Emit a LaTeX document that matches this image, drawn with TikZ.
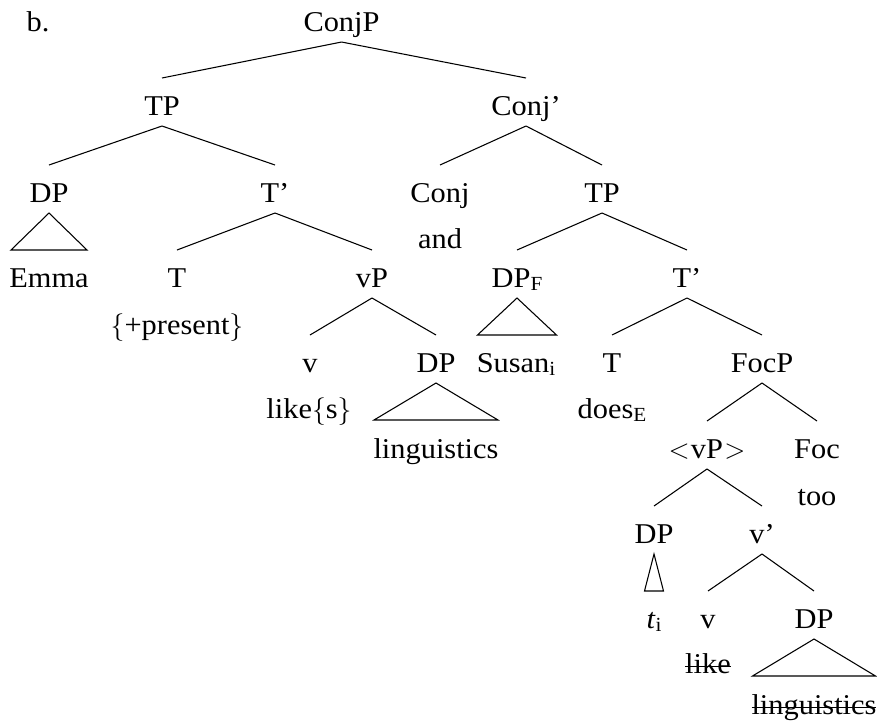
\documentclass[tikz,border=0pt]{standalone}
\usepackage{fontspec}
\setmainfont[FakeStretch=1.06]{Liberation Serif}
\usetikzlibrary{calc}
\newcommand{\sbs}[1]{\raisebox{-0.28ex}{\fontsize{15}{15}\selectfont #1}}
\newcommand{\strk}[1]{\tikz[baseline=(s.base)]{\node[inner sep=0pt,outer sep=0pt] (s) {#1};\draw[line width=0.9pt] ([yshift=4.6pt]s.base west) -- ([yshift=4.6pt]s.base east);}}
\begin{document}
\begin{tikzpicture}[x=0.75pt,y=-0.75pt,
  lbl/.style={anchor=base,inner sep=0pt,outer sep=0pt,font=\fontsize{21.5}{24}\selectfont},
  edge/.style={line width=0.8pt,black}]
\useasboundingbox (0,0) rectangle (877,722);
% nodes
\node[lbl] (b) at (38,31) {b.};
\node[lbl] (conjp) at (341.5,31) {ConjP};
\node[lbl] (tp1) at (162,115) {TP};
\node[lbl] (conjbar) at (526,115) {Conj'};
\node[lbl] (dp1) at (49,202) {DP};
\node[lbl] (tbar1) at (275,202) {T'};
\node[lbl] (conj) at (440,202) {Conj};
\node[lbl] (tp2) at (602,202) {TP};
\node[lbl] (and) at (440,248) {and};
\node[lbl] (emma) at (49,287) {Emma};
\node[lbl] (t1) at (177,287) {T};
\node[lbl] (vp1) at (372,287) {vP};
\node[lbl] (dpf) at (517,287) {DP\sbs{F}};
\node[lbl] (tbar2) at (687,287) {T'};
\node[lbl] (pres) at (177,334) {$\{$+present$\}$};
\node[lbl] (v1) at (310,372) {v};
\node[lbl] (dp2) at (436,372) {DP};
\node[lbl] (susan) at (516,372) {Susan\sbs{i}};
\node[lbl] (t2) at (612,372) {T};
\node[lbl] (focp) at (762,372) {FocP};
\node[lbl] (likes) at (309,418) {like$\{$s$\}$};
\node[lbl] (does) at (612,418) {does\sbs{E}};
\node[lbl] (ling1) at (436,458) {linguistics};
\node[lbl] (vp2) at (707,458) {$<$\kern1pt vP\kern1pt$>$};
\node[lbl] (foc) at (817,458) {Foc};
\node[lbl] (too) at (817,505) {too};
\node[lbl] (dp3) at (654,543) {DP};
\node[lbl] (vbar) at (762,543) {v'};
\node[lbl] (ti) at (654,628) {\textit{t}\sbs{i}};
\node[lbl] (v2) at (708,628) {v};
\node[lbl] (dp4) at (814,628) {DP};
\node[lbl] (like) at (708,673) {\strk{like}};
\node[lbl] (ling2) at (814,714) {\strk{linguistics}};
% branches
\newcommand{\br}[2]{\draw[edge] ($(#1.base)+(0,11)$) -- ($(#2.base)+(0,-37)$);}
\newcommand{\tri}[2]{\draw[edge] ($(#1.base)+(0,11)$) -- ($(#1.base)+(-#2,48)$) -- ($(#1.base)+(#2,48)$) -- cycle;}
\br{conjp}{tp1}\br{conjp}{conjbar}
\br{tp1}{dp1}\br{tp1}{tbar1}
\br{conjbar}{conj}\br{conjbar}{tp2}
\br{tbar1}{t1}\br{tbar1}{vp1}
\br{tp2}{dpf}\br{tp2}{tbar2}
\br{vp1}{v1}\br{vp1}{dp2}
\br{tbar2}{t2}\br{tbar2}{focp}
\br{focp}{vp2}\br{focp}{foc}
\br{vp2}{dp3}\br{vp2}{vbar}
\br{vbar}{v2}\br{vbar}{dp4}
\tri{dp1}{38}
\tri{dpf}{39.5}
\tri{dp2}{62}
\tri{dp3}{9.5}
\tri{dp4}{61.5}
\end{tikzpicture}
\end{document}
